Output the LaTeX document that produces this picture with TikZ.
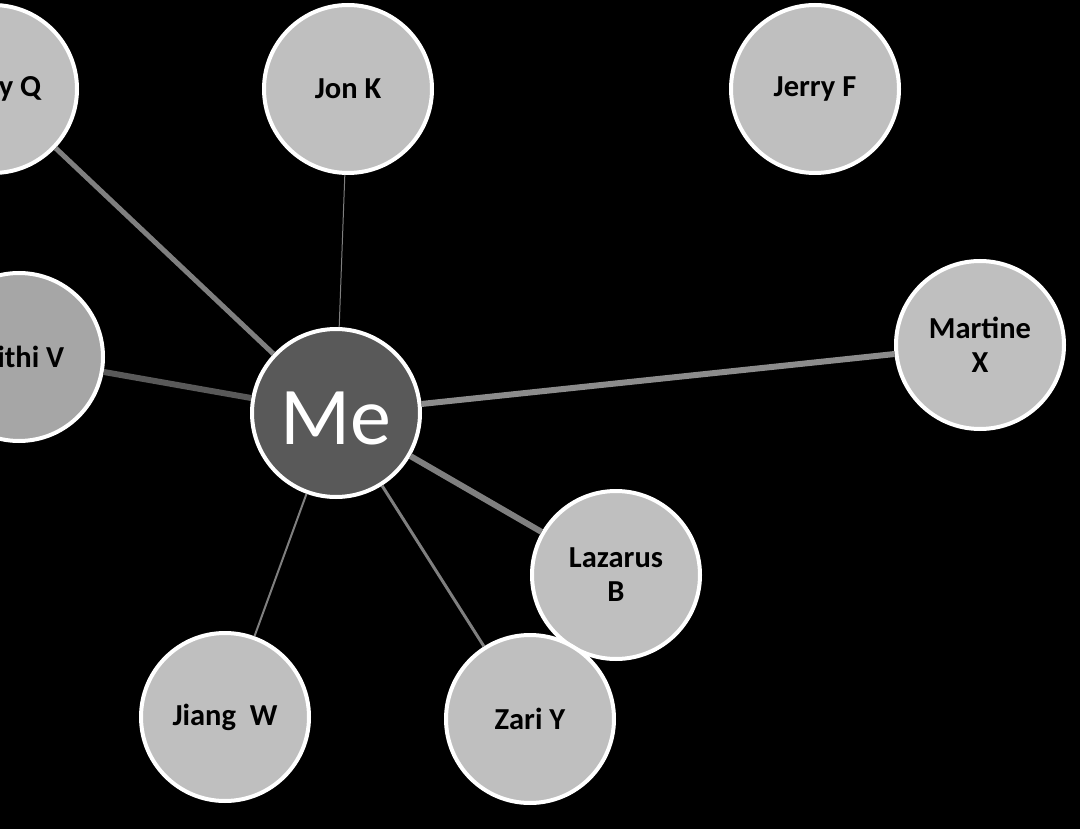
\documentclass[tikz,border=0pt]{standalone}
\usepackage{fontspec}
\setmainfont{Carlito}
\definecolor{friendfill}{HTML}{BFBFBF}
\definecolor{darkfill}{HTML}{A6A6A6}
\definecolor{mefill}{HTML}{595959}
\definecolor{tiegray}{HTML}{7F7F7F}
\definecolor{tielight}{HTML}{8C8C8C}
\begin{document}
\begin{tikzpicture}[x=1pt,y=-1pt,
  friend/.style={circle,draw=white,line width=4pt,fill=friendfill,
    minimum size=168pt,inner sep=0pt,align=center,
    font=\fontsize{30.5}{34}\selectfont\bfseries},
  tie/.style={draw=tiegray,line width=#1},
  tie/.default=3pt]
\fill[black] (0,0) rectangle (1080,829);
\useasboundingbox (0,0) rectangle (1080,829);

% me in the middle
\node[friend,fill=mefill,text=white,font=\fontsize{82}{90}\selectfont,
  text height=62pt,text depth=0pt] (me) at (336,413) {Me};

% friends round me
\node[friend,text width=96pt,align=right] (harry) at (-7,89) {\mbox{y\hspace{.22em}Q}};
\node[friend] (jon) at (348,89) {Jon K};
\node[friend] (jerry) at (815,89) {Jerry F};
\node[friend,fill=darkfill,text width=90pt,align=right] (prithi) at (19,357) {\mbox{ithi\hspace{.22em}V}};
\node[friend] (martine) at (980,345) {Martine\\X};
\node[friend] (lazarus) at (616,575) {Lazarus\\B};
\node[friend] (zari) at (530,719) {Zari Y};
\node[friend] (jiang) at (225,717) {Jiang~~W};

% ties
\draw[tie=5pt] (me) -- (harry);
\draw[tie=1pt] (me) -- (jon);
\draw[tie=6pt,draw=mefill] (me) -- (prithi);
\draw[tie=6pt,draw=tielight] (me) -- (martine);
\draw[tie=6pt] (me) -- (lazarus);
\draw[tie=3pt] (me) -- (zari);
\draw[tie=2pt] (me) -- (jiang);
\end{tikzpicture}
\end{document}
